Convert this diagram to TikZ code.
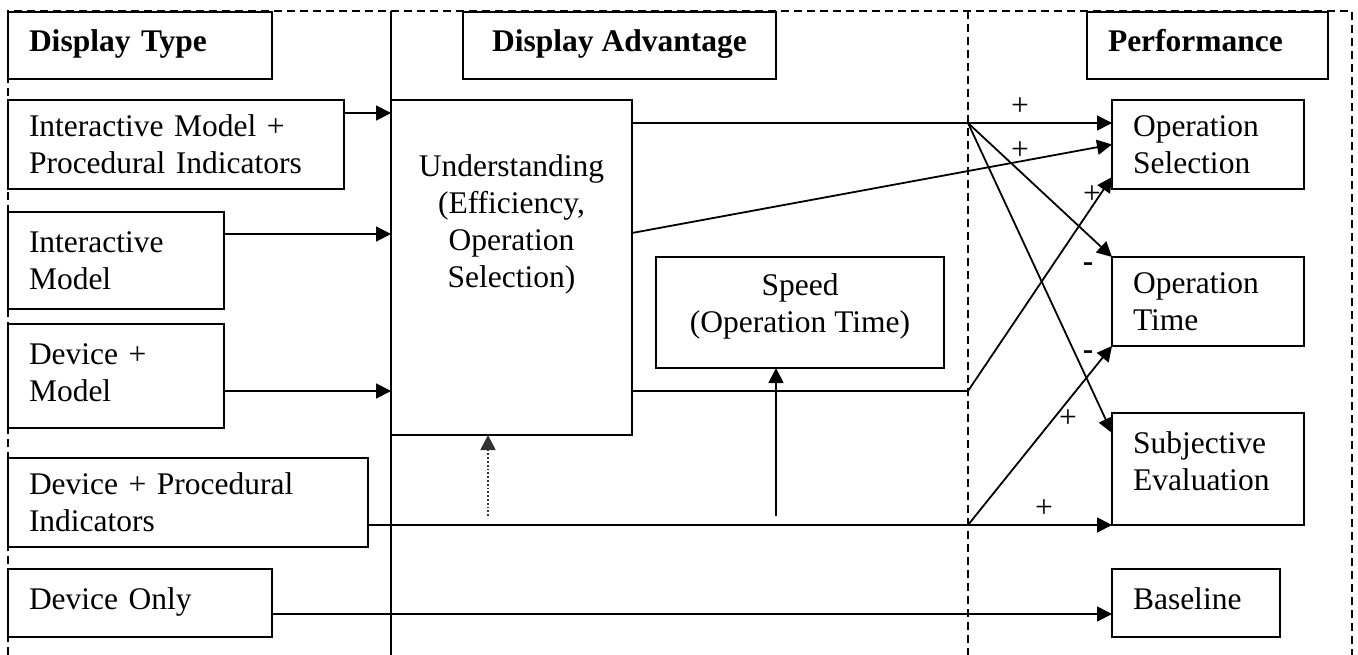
\documentclass[tikz,border=0pt]{standalone}
\usepackage{fontspec}
\setmainfont{Liberation Serif}
\usetikzlibrary{arrows.meta,calc}
\begin{document}
\begin{tikzpicture}[x=1pt,y=-1pt,
  every node/.style={font=\fontsize{31.5}{37}\selectfont},
  dashln/.style={line width=1.6pt, dash pattern=on 8pt off 5pt},
  solidln/.style={line width=1.8pt},
  lbox/.style={draw, line width=1.8pt, outer sep=0pt, anchor=north west,
               inner xsep=21pt, inner ysep=0pt, align=left, fill=white,
               text height=21pt, text depth=37pt},
  cbox/.style={draw, line width=1.8pt, outer sep=0pt, anchor=north west,
               inner sep=0pt, align=center, fill=white,
               text height=21pt, text depth=8pt},
  oneline/.style={text depth=8pt},
  head/.style={font=\fontsize{31.5}{37}\selectfont\bfseries},
  arr/.style={line width=1.8pt, -{Triangle[length=15pt,width=15pt]}},
  sign/.style={inner sep=0pt}
]
\useasboundingbox (0,0) rectangle (1358,655);

% column frame
\draw[dashln] (8,655) -- (8,11) -- (1352,11) -- (1352,655);
\draw[dashln] (968,11) -- (968,655);
\draw[solidln] (391,11) -- (391,655);

% column headings
\node[lbox, oneline, head, text width=222pt, minimum height=67pt] (dtype) at (8,12) {Display Type};
\node[cbox, head, minimum width=313pt, minimum height=67pt] (dadv) at (463,12) {Display Advantage};
\node[lbox, oneline, head, text width=199pt, minimum height=67pt] (perf) at (1087,12) {Performance};

% display types
\node[lbox, text width=294pt, minimum height=89pt] (impi) at (8,100) {Interactive Model +\\Procedural Indicators};
\node[lbox, text width=174pt, minimum height=97pt] (im) at (8,212) {Interactive\\Model};
\node[lbox, text width=174pt, minimum height=104pt, text depth=45pt] (dm) at (8,324) {Device +\\Model};
\node[lbox, text width=318pt, minimum height=89pt] (dpi) at (8,458) {Device + Procedural\\Indicators};
\node[lbox, oneline, text width=222pt, minimum height=68pt] (donly) at (8,569) {Device Only};

% display advantages
\node[cbox, minimum width=241pt, minimum height=335pt] (und) at (391,100) {};
\node[align=center, inner sep=0pt] (undtext) at (511.5,224) {Understanding\\(Efficiency,\\Operation\\Selection)};
\node[cbox, minimum width=288pt, minimum height=111pt, text height=58pt, text depth=19pt] (speed) at (656,257) {Speed\\(Operation Time)};

% performance measures
\node[lbox, text width=150pt, minimum height=89pt] (opsel) at (1112,100) {Operation\\Selection};
\node[lbox, text width=150pt, minimum height=89pt] (optime) at (1112,257) {Operation\\Time};
\node[lbox, text width=150pt, minimum height=112pt, text depth=53pt] (subj) at (1112,413) {Subjective\\Evaluation};
\node[lbox, oneline, text width=126pt, minimum height=68pt] (base) at (1112,569) {Baseline};

% branch points
\coordinate (s1) at (968,123);
\coordinate (s2) at (968,525);
\coordinate (s3) at (968,391);
\coordinate (a0) at (776,516);
\coordinate (d0) at (488,516);

\coordinate (e1) at ([yshift=31.5pt]impi.east);
\coordinate (e2) at ([yshift=26.5pt]im.east);
\coordinate (e3) at ([yshift=-15pt]dm.east);
\coordinate (e4) at ([yshift=-22.5pt]dpi.east);
\coordinate (e5) at ([yshift=-11pt]donly.east);
\coordinate (u1) at ([yshift=-23pt]und.north east);
\coordinate (u2) at ([yshift=34.5pt]und.east);
\coordinate (u3) at ([yshift=-123.5pt]und.east);

% display type -> understanding
\draw[arr] (e1) -- (e1 -| und.west);
\draw[arr] (e2) -- (e2 -| und.west);
\draw[arr] (e3) -- (e3 -| und.west);

% understanding -> performance
\draw[arr] (u1) -- (u1 -| opsel.west);
\draw[arr] (u2) -- (opsel.west);
\draw[solidln] (u3) -- (s3);
\draw[arr] (s3) -- ([yshift=12pt]opsel.south west);
\draw[arr] (s1) -- (optime.north west);
\draw[arr] (s1) -- ([yshift=-20pt]subj.north west);

% procedural indicators
\draw[solidln] (e4) -- (s2);
\draw[arr] (s2) -- (subj.south west);
\draw[arr] (s2) -- (optime.south west);
\draw[arr] (a0) -- (a0 |- speed.south);
\draw[arr, dotted, black!80] (d0) -- (d0 |- und.south);

% device only -> baseline
\draw[arr] (e5) -- (e5 -| base.west);

% effect signs
\node[sign] (p1) at (1020,107) {+};
\node[sign] (p2) at (1020,151) {+};
\node[sign] (p3) at (1092,195) {+};
\node[sign] (m1) at (1088,267) {\textbf{-}};
\node[sign] (m2) at (1088,355) {\textbf{-}};
\node[sign] (p4) at (1068,419) {+};
\node[sign] (p5) at (1044,509) {+};
\end{tikzpicture}
\end{document}
